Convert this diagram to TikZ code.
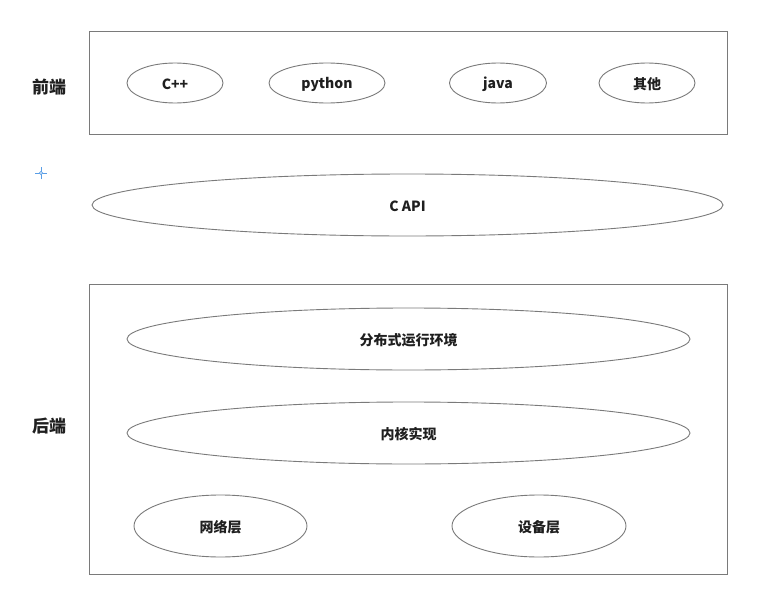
\documentclass[tikz,border=0pt]{standalone}
\usepackage{fontspec}
\setmainfont{Noto Sans CJK SC}
\usetikzlibrary{shapes.geometric}
\definecolor{linegray}{HTML}{7A7A7A}
\definecolor{crossblue}{HTML}{5A9EE6}
\tikzset{
  frame/.style={draw=linegray, line width=0.9pt, inner sep=0pt},
  oval/.style={ellipse, draw=linegray, line width=0.9pt, inner sep=0pt,
    font=\fontsize{14}{16}\selectfont\bfseries, text=black!88},
  sidelabel/.style={font=\fontsize{17}{19}\selectfont\bfseries, text=black!88},
  ovaltext/.style={font=\fontsize{14}{16}\selectfont\bfseries, text=black!88, inner sep=0pt},
}
\begin{document}
\begin{tikzpicture}[x=1pt,y=-1pt]
\useasboundingbox (0,0) rectangle (764,597);
\fill[white] (0,0) rectangle (764,597);
% front box
\node[frame, minimum width=638pt, minimum height=103pt] (front) at (408,82.5) {};
\node[sidelabel] (frontlbl) at (49,87) {前端};
\node[oval, minimum width=96pt, minimum height=40pt] (cpp) at (175,83) {};
\node[ovaltext] at ([yshift=-1.5pt]cpp.center) {C++};
\node[oval, minimum width=116pt, minimum height=40pt] (py) at (327,83) {};
\node[ovaltext] at ([yshift=-1.5pt]py.center) {python};
\node[oval, minimum width=97pt, minimum height=40pt] (java) at (498,83) {};
\node[ovaltext] at ([yshift=-1.5pt]java.center) {java};
\node[oval, minimum width=96pt, minimum height=40pt] (other) at (647,83) {};
\node[ovaltext] at ([yshift=-1.5pt]other.center) {其他};
% blue cross marker
\coordinate (mk) at (41,173);
\draw[crossblue, line width=0.9pt] ([xshift=-6pt]mk) -- ([xshift=6pt]mk);
\draw[crossblue, line width=0.9pt] ([yshift=-6pt]mk) -- ([yshift=6pt]mk);
\draw[crossblue, line width=0.7pt, fill=white] (mk) circle (1.6pt);
% C API
\node[oval, minimum width=631pt, minimum height=62pt] (capi) at (407.5,205) {};
\node[ovaltext] at ([yshift=-1.5pt]capi.center) {C API};
% back box
\node[frame, minimum width=638pt, minimum height=290pt] (back) at (408,429) {};
\node[sidelabel] (backlbl) at (49,426) {后端};
\node[oval, minimum width=563pt, minimum height=62pt] (dist) at (408.5,339) {};
\node[ovaltext] at ([yshift=-1.5pt]dist.center) {分布式运行环境};
\node[oval, minimum width=563pt, minimum height=62pt] (core) at (408.5,433) {};
\node[ovaltext] at ([yshift=-1.5pt]core.center) {内核实现};
\node[oval, minimum width=173pt, minimum height=62pt] (net) at (220.5,526) {};
\node[ovaltext] at ([yshift=-1.5pt]net.center) {网络层};
\node[oval, minimum width=174pt, minimum height=62pt] (dev) at (539,526) {};
\node[ovaltext] at ([yshift=-1.5pt]dev.center) {设备层};
\end{tikzpicture}
\end{document}
